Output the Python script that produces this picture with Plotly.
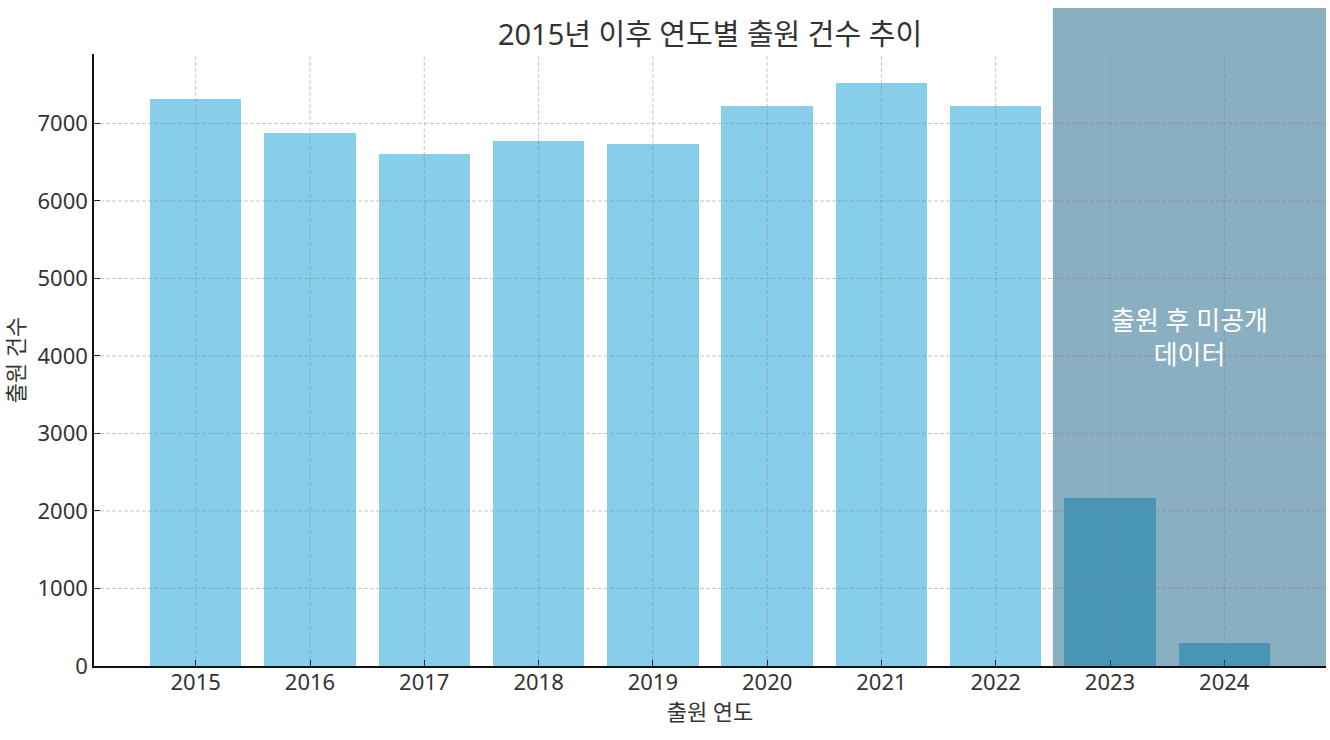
import plotly.graph_objects as go

years = [2015, 2016, 2017, 2018, 2019, 2020, 2021, 2022, 2023, 2024]
counts = [7320, 6880, 6600, 6770, 6740, 7230, 7520, 7230, 2170, 300]
y_ticks = [0, 1000, 2000, 3000, 4000, 5000, 6000, 7000]
unpublished_from = 2022.5
note_text = "출원 후 미공개<br>데이터"
note_y = 4240

FONT = "Noto Sans, Noto Sans CJK KR, sans-serif"
TXT = "#333333"

x_lo = min(years) - 0.4 - 0.49
x_hi = max(years) + 0.4 + 0.49
y_hi = max(counts) * 1.05

fig = go.Figure()
fig.add_trace(go.Bar(
    x=years, y=counts, width=0.8,
    marker=dict(color="#87CEEB", line=dict(width=0)),
    hoverinfo="x+y", showlegend=False,
))

shapes = []
# shaded region (over bars), extends above the plot area
x0_paper = (unpublished_from - x_lo) / (x_hi - x_lo)
shapes.append(dict(type="rect", xref="paper", yref="paper",
                   x0=x0_paper, x1=1, y0=0, y1=1.075,
                   fillcolor="rgba(5,84,124,0.47)", line=dict(width=0),
                   layer="above"))
# grid lines drawn on top
grid_line = dict(color="rgba(128,128,128,0.45)", width=1, dash="4px,2px")
for yv in y_ticks[1:]:
    shapes.append(dict(type="line", xref="paper", yref="y", x0=0, x1=1,
                       y0=yv, y1=yv, line=grid_line, layer="above"))
for xv in years:
    shapes.append(dict(type="line", xref="x", yref="paper", x0=xv, x1=xv,
                       y0=0, y1=1, line=grid_line, layer="above"))

fig.update_layout(
    width=1330, height=740,
    margin=dict(l=94, r=4, t=54, b=74),
    paper_bgcolor="white", plot_bgcolor="white",
    font=dict(family=FONT, color=TXT, size=22),
    title=dict(text="2015년 이후 연도별 출원 건수 추이",
               x=0.5, xref="paper", xanchor="center",
               y=1 - 35 / 740, yref="container", yanchor="middle",
               font=dict(size=29, color=TXT, family=FONT)),
    shapes=shapes,
    bargap=0,
    annotations=[dict(text=note_text, x=(unpublished_from + x_hi) / 2, y=note_y,
                      xref="x", yref="y", showarrow=False,
                      font=dict(size=26, color="white", family=FONT),
                      align="center")],
)
fig.update_xaxes(
    range=[x_lo, x_hi], tickvals=years, ticktext=[str(v) for v in years],
    showgrid=False, zeroline=False,
    showline=True, linecolor="#111111", linewidth=1.5,
    ticks="inside", ticklen=6, tickwidth=1.3, tickcolor="#111111",
    tickfont=dict(size=22, color=TXT), ticklabelstandoff=-4,
    title=dict(text="출원 연도", font=dict(size=22, color=TXT), standoff=4),
)
fig.update_yaxes(
    range=[0, y_hi], tickvals=y_ticks,
    showgrid=False, zeroline=False,
    showline=True, linecolor="#111111", linewidth=1.5,
    ticks="inside", ticklen=6, tickwidth=1.3, tickcolor="#111111",
    tickfont=dict(size=22, color=TXT),
    title=dict(text="출원 건수", font=dict(size=22, color=TXT), standoff=16),
)

fig.write_html("out.html")
